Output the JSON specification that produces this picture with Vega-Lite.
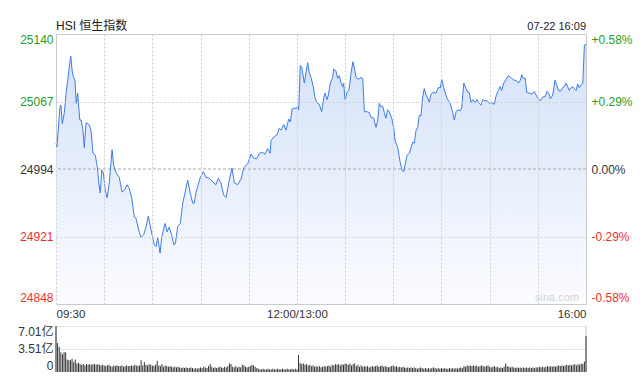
{
"$schema": "https://vega.github.io/schema/vega-lite/v6.json",
"padding": {"left": 17, "top": 19, "right": 0, "bottom": 0},
"background": "white",
"bounds": "flush",
"spacing": 22,
"config": {"font": "Liberation Sans, Noto Sans CJK SC", "view": {"stroke": null}},
"resolve": {"scale": {"x": "independent", "y": "independent"}},
"datasets": {
"px": [
{"t":0,"p":25022},{"t":0.6,"p":25018},{"t":2.5,"p":25062},{"t":3.1,"p":25063},{"t":3.9,"p":25043},{"t":5.2,"p":25055},{"t":6.4,"p":25078},{"t":7.3,"p":25090},{"t":8.5,"p":25108},{"t":9.2,"p":25116},{"t":10,"p":25101},{"t":10.8,"p":25094},{"t":11.8,"p":25090},{"t":12.6,"p":25065},{"t":13.5,"p":25076},{"t":14.8,"p":25047},{"t":15.6,"p":25047},{"t":16.8,"p":25036},{"t":17.6,"p":25017},{"t":18.7,"p":25044},{"t":20.7,"p":25042},{"t":21.8,"p":25036},{"t":23,"p":25011},{"t":24.5,"p":25009},{"t":25.3,"p":25000},{"t":25.9,"p":24994},{"t":26.6,"p":24979},{"t":27.6,"p":24968},{"t":28.5,"p":24993},{"t":29.5,"p":24990},{"t":30.7,"p":24971},{"t":31.8,"p":24963},{"t":33.2,"p":24979},{"t":34.9,"p":25015},{"t":35.9,"p":24998},{"t":37.4,"p":24990},{"t":39.4,"p":24985},{"t":41.1,"p":24969},{"t":42.5,"p":24971},{"t":44.2,"p":24977},{"t":45.6,"p":24973},{"t":47.1,"p":24963},{"t":48.8,"p":24942},{"t":49.8,"p":24941},{"t":51.5,"p":24928},{"t":52.9,"p":24920},{"t":54.6,"p":24923},{"t":56,"p":24931},{"t":57.5,"p":24943},{"t":59.2,"p":24928},{"t":61.2,"p":24912},{"t":62.3,"p":24910},{"t":63.3,"p":24920},{"t":64.8,"p":24903},{"t":65.8,"p":24920},{"t":67.9,"p":24935},{"t":69.1,"p":24926},{"t":70.4,"p":24931},{"t":72,"p":24923},{"t":73.3,"p":24912},{"t":74.3,"p":24913},{"t":75.8,"p":24932},{"t":77.4,"p":24935},{"t":78.9,"p":24957},{"t":80.3,"p":24968},{"t":82,"p":24982},{"t":83.6,"p":24968},{"t":85.1,"p":24957},{"t":86.1,"p":24957},{"t":87.2,"p":24969},{"t":88.2,"p":24975},{"t":89.9,"p":24985},{"t":91.7,"p":24991},{"t":93.4,"p":24985},{"t":95.5,"p":24984},{"t":97.6,"p":24980},{"t":99.6,"p":24977},{"t":101.1,"p":24984},{"t":102.7,"p":24979},{"t":104.4,"p":24966},{"t":105.9,"p":24963},{"t":107.9,"p":24982},{"t":109.6,"p":24995},{"t":111,"p":24979},{"t":113.1,"p":24977},{"t":115.2,"p":24983},{"t":116.9,"p":24995},{"t":118.3,"p":24998},{"t":119.4,"p":25000},{"t":121.4,"p":25010},{"t":122.9,"p":25006},{"t":125,"p":25005},{"t":126.6,"p":25011},{"t":128.7,"p":25012},{"t":130.1,"p":25010},{"t":131.8,"p":25016},{"t":133.3,"p":25011},{"t":133.9,"p":25025},{"t":135.9,"p":25029},{"t":137.6,"p":25031},{"t":139,"p":25038},{"t":140.1,"p":25036},{"t":141.8,"p":25042},{"t":143.2,"p":25036},{"t":144.9,"p":25048},{"t":145.9,"p":25045},{"t":147,"p":25059},{"t":148.4,"p":25060},{"t":149.4,"p":25059},{"t":150.5,"p":25062},{"t":151.1,"p":25058},{"t":152.1,"p":25106},{"t":153,"p":25104},{"t":154.6,"p":25087},{"t":155.7,"p":25099},{"t":156.7,"p":25109},{"t":157.7,"p":25098},{"t":158.8,"p":25093},{"t":160.2,"p":25083},{"t":161.3,"p":25071},{"t":162.3,"p":25066},{"t":163.9,"p":25064},{"t":165.4,"p":25056},{"t":166.7,"p":25071},{"t":167.5,"p":25076},{"t":168.7,"p":25069},{"t":169.6,"p":25074},{"t":170.8,"p":25087},{"t":172.3,"p":25093},{"t":172.9,"p":25102},{"t":174.3,"p":25100},{"t":175.4,"p":25092},{"t":176.4,"p":25095},{"t":177.5,"p":25087},{"t":178.5,"p":25083},{"t":179.1,"p":25087},{"t":180,"p":25069},{"t":181.2,"p":25077},{"t":182.4,"p":25079},{"t":183.7,"p":25098},{"t":184.9,"p":25110},{"t":185.7,"p":25104},{"t":186.8,"p":25093},{"t":188.2,"p":25091},{"t":189.9,"p":25093},{"t":191,"p":25092},{"t":192,"p":25056},{"t":193.6,"p":25056},{"t":195.1,"p":25055},{"t":196.1,"p":25050},{"t":197.8,"p":25049},{"t":199.3,"p":25039},{"t":200.3,"p":25047},{"t":201.3,"p":25065},{"t":202.4,"p":25061},{"t":203.4,"p":25062},{"t":204.4,"p":25055},{"t":205.5,"p":25049},{"t":206.5,"p":25058},{"t":207.5,"p":25056},{"t":209,"p":25049},{"t":210.3,"p":25039},{"t":211.1,"p":25025},{"t":212.8,"p":25017},{"t":214.2,"p":25002},{"t":215.4,"p":24993},{"t":216.5,"p":24991},{"t":218.6,"p":25009},{"t":220,"p":25011},{"t":222.1,"p":25023},{"t":223.1,"p":25022},{"t":224.2,"p":25036},{"t":225.2,"p":25039},{"t":226.2,"p":25052},{"t":227.3,"p":25052},{"t":228.3,"p":25072},{"t":229.3,"p":25081},{"t":230.4,"p":25074},{"t":231.4,"p":25071},{"t":232.4,"p":25066},{"t":233.5,"p":25075},{"t":234.9,"p":25077},{"t":236.6,"p":25076},{"t":238,"p":25082},{"t":239.3,"p":25082},{"t":240.2,"p":25091},{"t":241.4,"p":25082},{"t":242.8,"p":25074},{"t":243.9,"p":25069},{"t":245.5,"p":25065},{"t":247,"p":25055},{"t":248,"p":25047},{"t":249.1,"p":25056},{"t":250.1,"p":25058},{"t":251.7,"p":25057},{"t":252.6,"p":25060},{"t":253.9,"p":25087},{"t":255.3,"p":25081},{"t":256.4,"p":25077},{"t":257.3,"p":25077},{"t":258.4,"p":25066},{"t":259.5,"p":25069},{"t":260.9,"p":25066},{"t":262.1,"p":25069},{"t":263.6,"p":25065},{"t":264.6,"p":25063},{"t":265.7,"p":25069},{"t":266.7,"p":25068},{"t":268.4,"p":25068},{"t":269.8,"p":25065},{"t":270.9,"p":25066},{"t":272.9,"p":25064},{"t":274,"p":25073},{"t":275.4,"p":25079},{"t":276.5,"p":25083},{"t":277.5,"p":25079},{"t":278.8,"p":25087},{"t":280.2,"p":25091},{"t":281.6,"p":25095},{"t":283.3,"p":25093},{"t":285,"p":25090},{"t":286.4,"p":25090},{"t":287.9,"p":25087},{"t":289.1,"p":25090},{"t":290,"p":25096},{"t":291,"p":25092},{"t":292.2,"p":25092},{"t":293.1,"p":25077},{"t":294.7,"p":25076},{"t":296.4,"p":25075},{"t":297.8,"p":25078},{"t":298.9,"p":25074},{"t":300.3,"p":25070},{"t":301.6,"p":25068},{"t":303,"p":25072},{"t":304.5,"p":25072},{"t":305.7,"p":25078},{"t":306.8,"p":25076},{"t":307.8,"p":25070},{"t":309.3,"p":25074},{"t":310.7,"p":25090},{"t":311.8,"p":25085},{"t":312.8,"p":25079},{"t":314,"p":25078},{"t":315.5,"p":25082},{"t":316.5,"p":25083},{"t":317.6,"p":25087},{"t":318.6,"p":25083},{"t":319.6,"p":25079},{"t":320.7,"p":25082},{"t":321.7,"p":25083},{"t":322.7,"p":25081},{"t":323.8,"p":25079},{"t":324.8,"p":25086},{"t":325.8,"p":25082},{"t":326.9,"p":25085},{"t":328,"p":25087},{"t":329,"p":25128},{"t":330,"p":25129}
],
"vol": [
{"t":0,"v":7.01},{"t":1,"v":4.4},{"t":2,"v":3.8},{"t":3,"v":3.0},{"t":4,"v":2.7},{"t":5,"v":3.0},{"t":6,"v":3.0},{"t":7,"v":1.9},{"t":8,"v":1.8},{"t":9,"v":1.8},{"t":10,"v":2.0},{"t":11,"v":1.5},{"t":12,"v":1.9},{"t":13,"v":1.3},{"t":14,"v":1.4},{"t":15,"v":1.2},{"t":16,"v":1.1},{"t":17,"v":1.2},{"t":18,"v":1.0},{"t":19,"v":1.2},{"t":20,"v":1.1},{"t":21,"v":1.2},{"t":22,"v":1.1},{"t":23,"v":1.2},{"t":24,"v":1.2},{"t":25,"v":1.1},{"t":26,"v":1.2},{"t":27,"v":1.1},{"t":28,"v":1.0},{"t":29,"v":1.1},{"t":30,"v":1.0},{"t":31,"v":0.9},{"t":32,"v":1.0},{"t":33,"v":1.1},{"t":34,"v":0.9},{"t":35,"v":0.8},{"t":36,"v":1.0},{"t":37,"v":0.9},{"t":38,"v":1.0},{"t":39,"v":0.9},{"t":40,"v":0.9},{"t":41,"v":1.0},{"t":42,"v":0.8},{"t":43,"v":0.9},{"t":44,"v":1.0},{"t":45,"v":0.9},{"t":46,"v":0.9},{"t":47,"v":1.0},{"t":48,"v":0.9},{"t":49,"v":1.1},{"t":50,"v":1.0},{"t":51,"v":0.9},{"t":52,"v":1.0},{"t":53,"v":1.8},{"t":54,"v":1.0},{"t":55,"v":1.5},{"t":56,"v":1.1},{"t":57,"v":1.0},{"t":58,"v":1.2},{"t":59,"v":1.1},{"t":60,"v":1.0},{"t":61,"v":0.9},{"t":62,"v":1.1},{"t":63,"v":1.7},{"t":64,"v":1.0},{"t":65,"v":0.9},{"t":66,"v":1.2},{"t":67,"v":0.8},{"t":68,"v":1.0},{"t":69,"v":0.9},{"t":70,"v":0.8},{"t":71,"v":0.9},{"t":72,"v":0.8},{"t":73,"v":0.7},{"t":74,"v":0.8},{"t":75,"v":0.7},{"t":76,"v":0.8},{"t":77,"v":0.7},{"t":78,"v":0.6},{"t":79,"v":0.7},{"t":80,"v":0.6},{"t":81,"v":0.7},{"t":82,"v":0.6},{"t":83,"v":0.6},{"t":84,"v":0.7},{"t":85,"v":0.6},{"t":86,"v":0.5},{"t":87,"v":0.6},{"t":88,"v":0.5},{"t":89,"v":0.6},{"t":90,"v":0.7},{"t":91,"v":0.6},{"t":92,"v":0.8},{"t":93,"v":0.7},{"t":94,"v":0.6},{"t":95,"v":0.9},{"t":96,"v":1.2},{"t":97,"v":0.8},{"t":98,"v":0.6},{"t":99,"v":0.7},{"t":100,"v":0.6},{"t":101,"v":0.7},{"t":102,"v":0.8},{"t":103,"v":0.7},{"t":104,"v":0.6},{"t":105,"v":0.8},{"t":106,"v":0.7},{"t":107,"v":0.9},{"t":108,"v":1.3},{"t":109,"v":1.2},{"t":110,"v":0.8},{"t":111,"v":0.7},{"t":112,"v":0.9},{"t":113,"v":0.7},{"t":114,"v":0.8},{"t":115,"v":0.7},{"t":116,"v":1.1},{"t":117,"v":1.0},{"t":118,"v":0.8},{"t":119,"v":0.7},{"t":120,"v":0.8},{"t":121,"v":0.9},{"t":122,"v":1.1},{"t":123,"v":1.0},{"t":124,"v":0.8},{"t":125,"v":0.6},{"t":126,"v":0.5},{"t":127,"v":0.4},{"t":128,"v":0.4},{"t":129,"v":0.5},{"t":130,"v":0.4},{"t":131,"v":0.4},{"t":132,"v":0.5},{"t":133,"v":0.4},{"t":134,"v":0.4},{"t":135,"v":0.5},{"t":136,"v":0.4},{"t":137,"v":0.4},{"t":138,"v":0.5},{"t":139,"v":0.4},{"t":140,"v":0.4},{"t":141,"v":0.5},{"t":142,"v":0.4},{"t":143,"v":0.4},{"t":144,"v":0.5},{"t":145,"v":0.4},{"t":146,"v":0.4},{"t":147,"v":0.5},{"t":148,"v":0.4},{"t":149,"v":0.5},{"t":150,"v":0.4},{"t":151,"v":2.6},{"t":152,"v":1.4},{"t":153,"v":1.2},{"t":154,"v":1.3},{"t":155,"v":1.1},{"t":156,"v":1.2},{"t":157,"v":1.0},{"t":158,"v":1.1},{"t":159,"v":0.9},{"t":160,"v":1.0},{"t":161,"v":0.8},{"t":162,"v":0.9},{"t":163,"v":0.8},{"t":164,"v":0.9},{"t":165,"v":0.7},{"t":166,"v":0.8},{"t":167,"v":0.9},{"t":168,"v":0.8},{"t":169,"v":0.9},{"t":170,"v":1.0},{"t":171,"v":0.8},{"t":172,"v":1.1},{"t":173,"v":1.0},{"t":174,"v":1.2},{"t":175,"v":1.1},{"t":176,"v":1.2},{"t":177,"v":1.0},{"t":178,"v":1.2},{"t":179,"v":1.1},{"t":180,"v":1.3},{"t":181,"v":1.2},{"t":182,"v":1.1},{"t":183,"v":1.3},{"t":184,"v":1.0},{"t":185,"v":1.2},{"t":186,"v":1.3},{"t":187,"v":0.9},{"t":188,"v":1.1},{"t":189,"v":0.8},{"t":190,"v":1.0},{"t":191,"v":0.8},{"t":192,"v":0.9},{"t":193,"v":0.8},{"t":194,"v":0.9},{"t":195,"v":0.7},{"t":196,"v":0.8},{"t":197,"v":0.9},{"t":198,"v":0.8},{"t":199,"v":0.9},{"t":200,"v":1.0},{"t":201,"v":0.8},{"t":202,"v":0.9},{"t":203,"v":1.0},{"t":204,"v":0.8},{"t":205,"v":0.9},{"t":206,"v":0.8},{"t":207,"v":0.7},{"t":208,"v":0.8},{"t":209,"v":0.9},{"t":210,"v":1.0},{"t":211,"v":0.8},{"t":212,"v":0.9},{"t":213,"v":0.7},{"t":214,"v":0.8},{"t":215,"v":0.7},{"t":216,"v":0.8},{"t":217,"v":0.7},{"t":218,"v":0.6},{"t":219,"v":0.7},{"t":220,"v":0.6},{"t":221,"v":0.7},{"t":222,"v":0.6},{"t":223,"v":0.7},{"t":224,"v":0.6},{"t":225,"v":0.5},{"t":226,"v":0.6},{"t":227,"v":0.7},{"t":228,"v":0.6},{"t":229,"v":0.5},{"t":230,"v":0.6},{"t":231,"v":0.5},{"t":232,"v":0.6},{"t":233,"v":0.5},{"t":234,"v":0.6},{"t":235,"v":0.7},{"t":236,"v":0.6},{"t":237,"v":0.5},{"t":238,"v":0.6},{"t":239,"v":0.5},{"t":240,"v":0.6},{"t":241,"v":0.5},{"t":242,"v":0.6},{"t":243,"v":0.5},{"t":244,"v":0.5},{"t":245,"v":0.6},{"t":246,"v":0.5},{"t":247,"v":0.6},{"t":248,"v":0.5},{"t":249,"v":0.6},{"t":250,"v":0.5},{"t":251,"v":0.6},{"t":252,"v":0.7},{"t":253,"v":0.6},{"t":254,"v":0.9},{"t":255,"v":0.8},{"t":256,"v":1.0},{"t":257,"v":0.9},{"t":258,"v":1.0},{"t":259,"v":0.9},{"t":260,"v":1.0},{"t":261,"v":0.9},{"t":262,"v":1.0},{"t":263,"v":0.8},{"t":264,"v":0.9},{"t":265,"v":1.0},{"t":266,"v":0.9},{"t":267,"v":0.8},{"t":268,"v":0.9},{"t":269,"v":1.0},{"t":270,"v":0.8},{"t":271,"v":0.7},{"t":272,"v":0.8},{"t":273,"v":0.9},{"t":274,"v":0.7},{"t":275,"v":0.8},{"t":276,"v":0.6},{"t":277,"v":0.7},{"t":278,"v":0.6},{"t":279,"v":0.8},{"t":280,"v":1.3},{"t":281,"v":0.9},{"t":282,"v":0.8},{"t":283,"v":0.7},{"t":284,"v":0.8},{"t":285,"v":0.7},{"t":286,"v":0.6},{"t":287,"v":0.7},{"t":288,"v":0.6},{"t":289,"v":0.7},{"t":290,"v":0.6},{"t":291,"v":0.7},{"t":292,"v":0.6},{"t":293,"v":0.7},{"t":294,"v":0.6},{"t":295,"v":0.7},{"t":296,"v":0.6},{"t":297,"v":0.7},{"t":298,"v":0.6},{"t":299,"v":0.7},{"t":300,"v":0.7},{"t":301,"v":0.8},{"t":302,"v":0.7},{"t":303,"v":0.8},{"t":304,"v":0.7},{"t":305,"v":0.8},{"t":306,"v":0.9},{"t":307,"v":0.8},{"t":308,"v":0.9},{"t":309,"v":0.8},{"t":310,"v":0.9},{"t":311,"v":0.8},{"t":312,"v":0.9},{"t":313,"v":1.0},{"t":314,"v":0.9},{"t":315,"v":1.0},{"t":316,"v":0.9},{"t":317,"v":1.0},{"t":318,"v":1.1},{"t":319,"v":1.0},{"t":320,"v":1.1},{"t":321,"v":1.0},{"t":322,"v":1.1},{"t":323,"v":1.2},{"t":324,"v":1.0},{"t":325,"v":1.2},{"t":326,"v":1.1},{"t":327,"v":1.3},{"t":328,"v":1.2},{"t":329,"v":1.6},{"t":330,"v":5.5}
]
},
"vconcat": [
{
"width": 530,
"height": 270,
"view": {"stroke": "#c8c8c8"},
"resolve": {"axis": {"x": "independent", "y": "independent"}},
"layer": [
{
"data": {"name": "px"},
"mark": {"type": "area", "color": {"gradient": "linear", "x1": 0, "y1": 0, "x2": 0, "y2": 1, "stops": [{"offset": 0, "color": "#d3e1f8"}, {"offset": 1, "color": "#fbfcff"}]}},
"encoding": {
"x": {"field": "t", "type": "quantitative", "scale": {"domain": [0, 330], "nice": false, "zero": false},
"axis": {"orient": "bottom", "values": [0, 30, 60, 90, 120, 150, 180, 210, 240, 270, 300, 330], "grid": true, "gridColor": "#cfcfcf", "gridDash": [2, 2], "ticks": false, "domain": false, "labels": false, "title": null, "zindex": 1}},
"y": {"field": "p", "type": "quantitative", "scale": {"domain": [24848, 25140], "nice": false, "zero": false},
"axis": {"values": [24848, 24921, 24994, 25067, 25140], "format": "d", "grid": true, "gridColor": "#cfcfcf", "gridDash": [2, 2], "gridOpacity": {"condition": {"test": "datum.value == 24994", "value": 0}, "value": 1}, "ticks": false, "domain": false, "labelFlush": true, "labelPadding": 3, "labelFontSize": 12, "labelColor": {"condition": [{"test": "datum.value > 24994", "value": "#1f9e1f"}, {"test": "datum.value < 24994", "value": "#f0302a"}], "value": "#333333"}, "title": null, "zindex": 1}},
"y2": {"datum": 24848}
}
},
{
"data": {"values": [{}]},
"mark": {"type": "rule", "color": "#a8a8a8", "strokeDash": [3, 2], "strokeWidth": 1},
"encoding": {"y": {"datum": 24994, "axis": null}}
},
{
"data": {"name": "px"},
"mark": {"type": "line", "color": "#3f7ce6", "strokeWidth": 1},
"encoding": {
"x": {"field": "t", "type": "quantitative",
"axis": {"orient": "bottom", "values": [0, 150, 330], "labelExpr": "datum.value == 0 ? '09:30' : datum.value == 150 ? '12:00/13:00' : '16:00'", "grid": false, "ticks": false, "domain": false, "labelFlush": true, "labelPadding": 4, "labelFontSize": 11.5, "labelColor": "#333333", "title": null}},
"y": {"field": "p", "type": "quantitative",
"axis": {"orient": "right", "values": [24848, 24921, 24994, 25067, 25140], "labelExpr": "datum.value == 24994 ? '0.00%' : (datum.value > 24994 ? '+' : '-') + format(abs(datum.value - 24994) / 24994 * 100, '.2f') + '%'", "grid": false, "ticks": false, "domain": false, "labelFlush": true, "labelPadding": 5, "labelFontSize": 12, "labelColor": {"condition": [{"test": "datum.value > 24994", "value": "#1f9e1f"}, {"test": "datum.value < 24994", "value": "#f0302a"}], "value": "#333333"}, "title": null}}
}
},
{
"data": {"values": [{"label": "HSI 恒生指数"}]},
"mark": {"type": "text", "align": "left", "baseline": "alphabetic", "dy": -4, "fontSize": 12, "color": "#222222"},
"encoding": {"x": {"datum": 0, "axis": null}, "y": {"datum": 25140, "axis": null}, "text": {"field": "label"}}
},
{
"data": {"values": [{"label": "07-22 16:09"}]},
"mark": {"type": "text", "align": "right", "baseline": "alphabetic", "dy": -4, "fontSize": 11, "color": "#222222"},
"encoding": {"x": {"datum": 330, "axis": null}, "y": {"datum": 25140, "axis": null}, "text": {"field": "label"}}
},
{
"data": {"values": [{"label": "sina.com"}]},
"mark": {"type": "text", "align": "right", "baseline": "alphabetic", "dx": -7, "dy": -3, "fontSize": 11, "color": "#d4d4d4"},
"encoding": {"x": {"datum": 330, "axis": null}, "y": {"datum": 24848, "axis": null}, "text": {"field": "label"}}
}
]
},
{
"width": 530,
"height": 46,
"layer": [
{
"data": {"values": [{"t": 0}, {"t": 330}]},
"mark": {"type": "rule", "color": "#c8c8c8", "strokeWidth": 1},
"encoding": {"x": {"field": "t", "type": "quantitative", "scale": {"domain": [0, 330], "nice": false, "zero": false}, "axis": null}}
},
{
"data": {"name": "vol"},
"mark": {"type": "rule", "color": "#333333", "strokeWidth": 1},
"encoding": {
"x": {"field": "t", "type": "quantitative", "axis": null},
"y": {"field": "v", "type": "quantitative", "scale": {"domain": [0, 7.01], "nice": false},
"axis": {"values": [0, 3.51, 7.01], "labelExpr": "datum.value == 0 ? '0' : format(datum.value, '.2f') + '亿'", "grid": true, "gridColor": "#b8b8b8", "gridDash": [1, 2], "gridOpacity": {"condition": {"test": "datum.value == 0", "value": 0}, "value": 1}, "ticks": false, "domain": false, "labelFlush": true, "labelPadding": 3, "labelFontSize": 12, "labelColor": "#333333", "title": null}},
"y2": {"datum": 0}
}
}
]
}
]
}
